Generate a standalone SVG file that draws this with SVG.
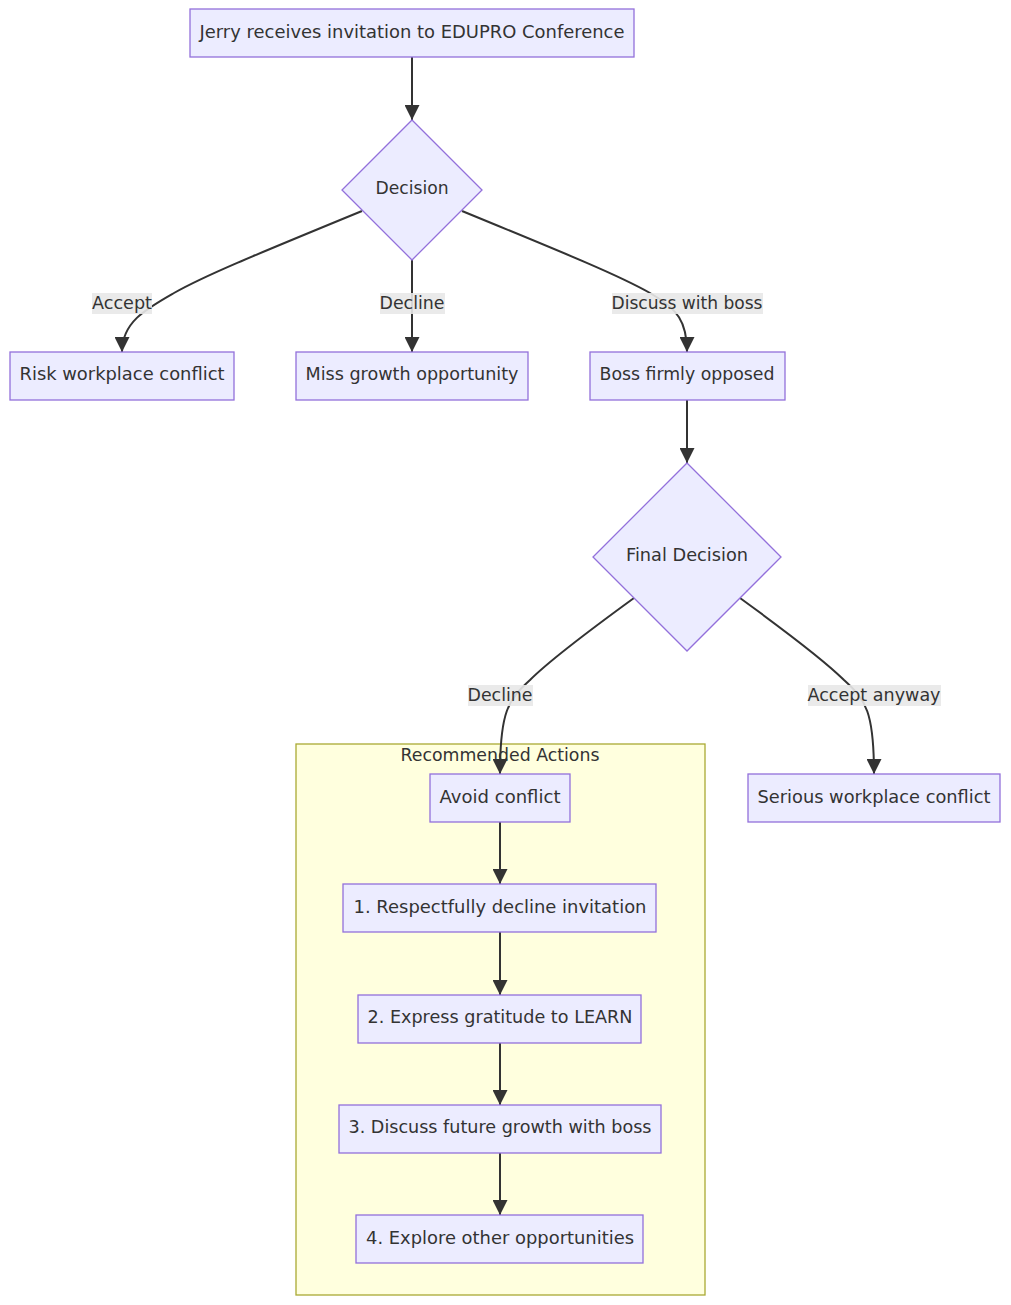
<svg xmlns="http://www.w3.org/2000/svg" width="1011" height="1305" viewBox="0 0 1011 1305">
<style>
  .node rect, .node polygon { fill: #ECECFF; stroke: #9370DB; stroke-width: 1.3; }
  text { font-family: "DejaVu Sans", Verdana, sans-serif; font-size: 17px; fill: #333333; text-anchor: middle; dominant-baseline: central; }
  .edge { fill: none; stroke: #333333; stroke-width: 2; marker-end: url(#arrow); }
  .lbl rect { fill: #e8e8e8; opacity: 0.9; }
  .cluster rect { fill: #ffffde; stroke: #aaaa33; stroke-width: 1.3; }
</style>
<defs>
  <marker id="arrow" viewBox="0 0 10 10" refX="10" refY="5" markerUnits="userSpaceOnUse" markerWidth="15" markerHeight="15" orient="auto">
    <path d="M0,0 L10,5 L0,10 z" fill="#333333"/>
  </marker>
</defs>
<rect width="1011" height="1305" fill="#ffffff"/>
<g id="cluster-recommended" class="cluster">
  <rect x="296" y="744" width="409" height="551"/>
  <text x="500" y="755" textLength="199" lengthAdjust="spacingAndGlyphs">Recommended Actions</text>
</g>
<g id="connectors">
  <path class="edge" d="M412,57 L412,120"/>
  <path class="edge" d="M362,211 C250,257 204,276 174,293 C146,309 122,322 122,352"/>
  <path class="edge" d="M412,260 L412,352"/>
  <path class="edge" d="M462,211 C574,257 620,276 650,293 C678,309 687,322 687,352"/>
  <path class="edge" d="M687,400 L687,463"/>
  <path class="edge" d="M634,598 C590,630 550,660 530,680 C508,700 500,712 500,774"/>
  <path class="edge" d="M740,598 C784,630 824,660 844,680 C866,700 874,712 874,774"/>
  <path class="edge" d="M500,822 L500,884"/>
  <path class="edge" d="M500,932 L500,995"/>
  <path class="edge" d="M500,1043 L500,1105"/>
  <path class="edge" d="M500,1153 L500,1215"/>
</g>
<g id="edge-labels">
  <g class="lbl"><rect x="92" y="293" width="60" height="21"/><text x="122" y="303" textLength="60" lengthAdjust="spacingAndGlyphs">Accept</text></g>
  <g class="lbl"><rect x="380" y="293" width="65" height="21"/><text x="412" y="303" textLength="65" lengthAdjust="spacingAndGlyphs">Decline</text></g>
  <g class="lbl"><rect x="612" y="293" width="151" height="21"/><text x="687" y="303" textLength="151" lengthAdjust="spacingAndGlyphs">Discuss with boss</text></g>
  <g class="lbl"><rect x="468" y="685" width="65" height="21"/><text x="500" y="695" textLength="65" lengthAdjust="spacingAndGlyphs">Decline</text></g>
  <g class="lbl"><rect x="808" y="685" width="133" height="21"/><text x="874" y="695" textLength="133" lengthAdjust="spacingAndGlyphs">Accept anyway</text></g>
</g>
<g id="node-start" class="node"><rect x="190" y="9" width="444" height="48"/><text x="412" y="32" textLength="425" lengthAdjust="spacingAndGlyphs">Jerry receives invitation to EDUPRO Conference</text></g>
<g id="node-decision" class="node"><polygon points="412,120 482,190 412,260 342,190"/><text x="412" y="188" textLength="73" lengthAdjust="spacingAndGlyphs">Decision</text></g>
<g id="node-risk" class="node"><rect x="10" y="352" width="224" height="48"/><text x="122" y="374" textLength="205" lengthAdjust="spacingAndGlyphs">Risk workplace conflict</text></g>
<g id="node-miss" class="node"><rect x="296" y="352" width="232" height="48"/><text x="412" y="374" textLength="213" lengthAdjust="spacingAndGlyphs">Miss growth opportunity</text></g>
<g id="node-boss" class="node"><rect x="590" y="352" width="195" height="48"/><text x="687" y="374" textLength="175" lengthAdjust="spacingAndGlyphs">Boss firmly opposed</text></g>
<g id="node-final" class="node"><polygon points="687,463 781,557 687,651 593,557"/><text x="687" y="555" textLength="122" lengthAdjust="spacingAndGlyphs">Final Decision</text></g>
<g id="node-avoid" class="node"><rect x="430" y="774" width="140" height="48"/><text x="500" y="797" textLength="121" lengthAdjust="spacingAndGlyphs">Avoid conflict</text></g>
<g id="node-serious" class="node"><rect x="748" y="774" width="252" height="48"/><text x="874" y="797" textLength="233" lengthAdjust="spacingAndGlyphs">Serious workplace conflict</text></g>
<g id="node-step1" class="node"><rect x="343" y="884" width="313" height="48"/><text x="500" y="907" textLength="293" lengthAdjust="spacingAndGlyphs">1. Respectfully decline invitation</text></g>
<g id="node-step2" class="node"><rect x="358" y="995" width="283" height="48"/><text x="500" y="1017" textLength="265" lengthAdjust="spacingAndGlyphs">2. Express gratitude to LEARN</text></g>
<g id="node-step3" class="node"><rect x="339" y="1105" width="322" height="48"/><text x="500" y="1127" textLength="303" lengthAdjust="spacingAndGlyphs">3. Discuss future growth with boss</text></g>
<g id="node-step4" class="node"><rect x="356" y="1215" width="287" height="48"/><text x="500" y="1238" textLength="268" lengthAdjust="spacingAndGlyphs">4. Explore other opportunities</text></g>
</svg>
